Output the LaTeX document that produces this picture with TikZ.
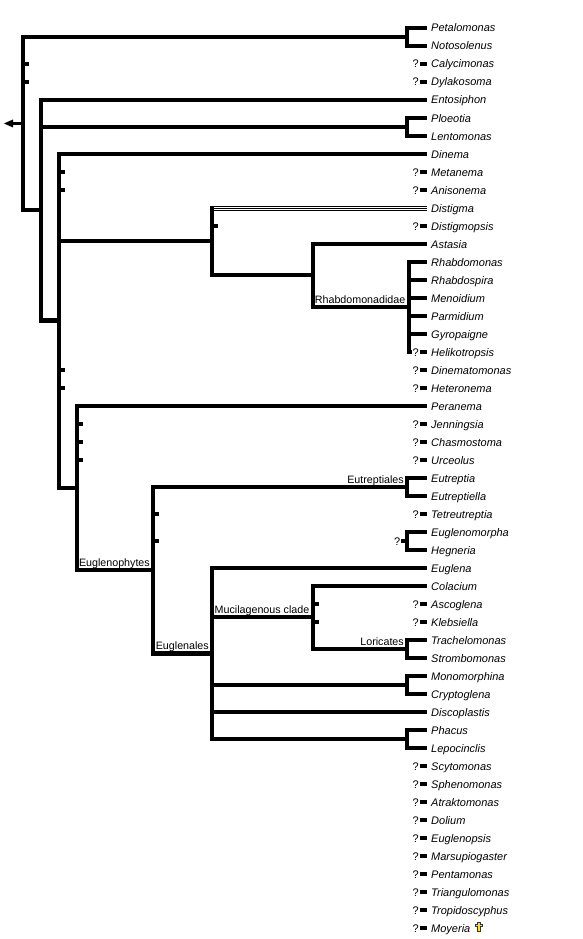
\documentclass[tikz,border=0pt]{standalone}
\usepackage{fontspec}
\setmainfont{Liberation Sans}
\usetikzlibrary{calc}
\definecolor{dagyellow}{RGB}{255,230,0}
\tikzset{
  br/.style={line width=4.3pt, line cap=butt, line join=miter},
  thinbr/.style={line width=1pt},
  taxon/.style={inner sep=0pt, font=\fontsize{11}{13}\selectfont\itshape},
  clab/.style={inner sep=0pt, font=\fontsize{10.7}{13}\selectfont, anchor=base east},
  qm/.style={inner sep=0pt, font=\fontsize{11}{13}\selectfont, anchor=base east}
}
\begin{document}
\begin{tikzpicture}[x=1pt,y=-1pt]
\fill[white] (0,0) rectangle (582,939);
\useasboundingbox (0,0) rectangle (582,939);
% taxa
\foreach \i/\name in {0/Petalomonas,1/Notosolenus,2/Calycimonas,3/Dylakosoma,4/Entosiphon,5/Ploeotia,6/Lentomonas,7/Dinema,8/Metanema,9/Anisonema,10/Distigma,11/Distigmopsis,12/Astasia,13/Rhabdomonas,14/Rhabdospira,15/Menoidium,16/Parmidium,17/Gyropaigne,18/Helikotropsis,19/Dinematomonas,20/Heteronema,21/Peranema,22/Jenningsia,23/Chasmostoma,24/Urceolus,25/Eutreptia,26/Eutreptiella,27/Tetreutreptia,28/Euglenomorpha,29/Hegneria,30/Euglena,31/Colacium,32/Ascoglena,33/Klebsiella,34/Trachelomonas,35/Strombomonas,36/Monomorphina,37/Cryptoglena,38/Discoplastis,39/Phacus,40/Lepocinclis,41/Scytomonas,42/Sphenomonas,43/Atraktomonas,44/Dolium,45/Euglenopsis,46/Marsupiogaster,47/Pentamonas,48/Triangulomonas,49/Tropidoscyphus,50/Moyeria}{
  \coordinate (t\i) at (426.5,{28+18*\i});
  \node[taxon, anchor=base west] (n\i) at ($(t\i)+(4.5,4)$) {\name};
}
% internal nodes
\coordinate (R) at (23,123.5);
\coordinate (A) at (407,37);
\coordinate (B) at (41,210);
\coordinate (C) at (407,127);
\coordinate (D) at (59,320.5);
\coordinate (E) at (212,241);
\coordinate (F) at (313,275);
\coordinate (G) at (409,307);
\coordinate (H) at (77,488);
\coordinate (I) at (153,570);
\coordinate (J) at (407,487);
\coordinate (K) at (407,541);
\coordinate (L) at (212,653.5);
\coordinate (M) at (313,617);
\coordinate (N) at (407,649);
\coordinate (O) at (407,685);
\coordinate (P) at (407,739);
\coordinate (rootend) at (13,123.5);
% root
\draw[line width=2.5pt] (R) -- (rootend);
\fill (4,123.5) -- (13,119.5) -- (13,127.5) -- cycle;
\draw[br] (R) |- (A);
\draw[br] (R) |- (B);
\draw[br] (t0) -| (A) |- (t1);
% node B
\draw[br] (t4) -| (B) |- (D);
\draw[br] (B |- C) -- (C);
\draw[br] (t5) -| (C) |- (t6);
% node D
\draw[br] (t7) -| (D) |- (H);
\draw[br] (D |- E) -- (E);
% Distigma node
\draw[br] ($(E |- t10)+(0,-2.5)$) -- (E) |- (F);
\foreach \d in {-2,0,2}{
  \draw[thinbr] ($(E |- t10)+(0,\d)$) -- ($(t10)+(0,\d)$);
}
\draw[br] (t12) -| (F) |- (G);
\draw[br] (t13) -| (G) -- (G |- t18) -- ++(3,0);
\foreach \i in {14,15,16,17}{ \draw[br] (G |- t\i) -- (t\i); }
\node[clab] at ($(G)+(-3.5,-4)$) {Rhabdomonadidae};
% node H
\draw[br] (t21) -| (H) |- (I);
\node[clab] at ($(I)+(-3,-4)$) {Euglenophytes};
% node I
\draw[br] (J) -| (I) |- (L);
\draw[br] (t25) -| (J) |- (t26);
\node[clab] at ($(J)+(-3,-4)$) {Eutreptiales};
\node[clab] at ($(L)+(-3,-4)$) {Euglenales};
\draw[br] (I |- K) -- ++(6,0);
\draw[br] (t28) -| (K) |- (t29);
\draw[br] (K) -- ++(-6,0);
\node[qm] at ($(K)+(-6.5,4)$) {?};
% Euglenales
\draw[br] (t30) -| (L) |- (P);
\draw[br] (L |- M) -- (M);
\draw[br] (L |- O) -- (O);
\draw[br] (L |- t38) -- (t38);
\node[clab] at ($(M)+(-3.5,-4)$) {Mucilagenous clade};
\draw[br] (t31) -| (M) |- (N);
\node[clab] at ($(N)+(-3,-4)$) {Loricates};
\draw[br] (t34) -| (N) |- (t35);
\draw[br] (t36) -| (O) |- (t37);
\draw[br] (t39) -| (P) |- (t40);
% ticks for uncertain placements
\foreach \c/\i in {R/2,R/3,D/8,D/9,D/19,D/20,E/11,H/22,H/23,H/24,I/27,M/32,M/33}{
  \draw[br] (\c |- t\i) -- ++(6,0);
}
% question marks and stubs
\foreach \i in {2,3,8,9,11,18,19,20,22,23,24,27,32,33,41,42,43,44,45,46,47,48,49,50}{
  \draw[br] ($(t\i)+(-7,0)$) -- (t\i);
  \node[qm] at ($(t\i)+(-7.5,4)$) {?};
}
% extinct dagger
\begin{scope}[shift={($(t50)+(52.5,-1)$)}]
\filldraw[fill=dagyellow, draw=black!80, line width=0.5pt]
  (-1.3,-5) -- (1.3,-5) -- (1.3,-2.8) -- (3.5,-2.8) -- (3.5,-0.4) -- (1.3,-0.4) -- (1.3,4.5)
  -- (-1.3,4.5) -- (-1.3,-0.4) -- (-3.5,-0.4) -- (-3.5,-2.8) -- (-1.3,-2.8) -- cycle;
\end{scope}
\end{tikzpicture}
\end{document}
